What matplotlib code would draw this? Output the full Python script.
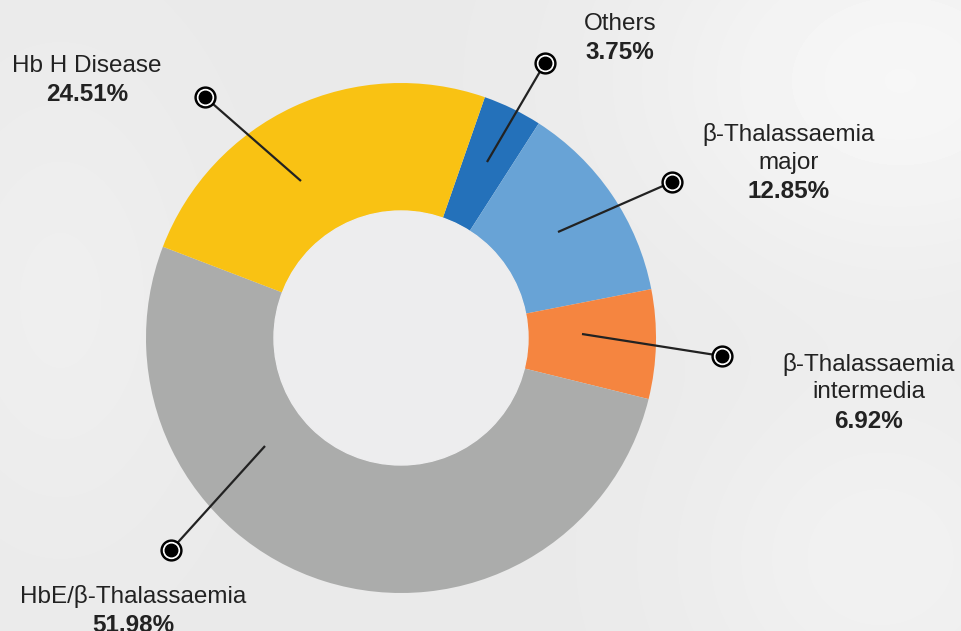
import numpy as np
import matplotlib
matplotlib.use("Agg")
from matplotlib import pyplot as plt

# Данные диаграммы
labels = ["Others", "β-Thalassaemia\nmajor", "β-Thalassaemia\nintermedia",
          "HbE/β-Thalassaemia", "Hb H Disease"]
values = [3.75, 12.85, 6.92, 51.98, 24.51]
colors = ["#2471BA", "#68A3D6", "#F58540", "#ABACAB", "#F9C213"]

W, H = 962, 631
CX, CY = 401, H - 338
R_OUT = 255
RING = 128
START = 70.8

# Выноски: точка внутри сегмента -> маркер, затем позиция подписи
anchors = [(487, 162), (558, 232), (582, 334), (265, 446), (301, 181)]
dots = [(545, 63), (672, 182), (722, 356), (171, 550), (205, 97)]
label_pos = [(620, 24), (789, 135), (869, 364), (133, 597), (87, 66)]
n_lines = [1, 2, 2, 1, 1]

plt.rcParams['font.family'] = ['Liberation Sans', 'DejaVu Sans']

fig = plt.figure(figsize=(W / 100, H / 100), dpi=100)
ax = fig.add_axes([0, 0, 1, 1])

# Фон с мягким градиентом
yy, xx = np.mgrid[0:H, 0:W]
bg = 0.915 + 0.05 * np.exp(-(((xx - 900) / 260.0) ** 2 + ((yy - 80) / 200.0) ** 2))
bg += 0.03 * np.exp(-(((xx - 880) / 200.0) ** 2 + ((yy - 560) / 180.0) ** 2))
bg += 0.02 * np.exp(-(((xx - 60) / 150.0) ** 2 + ((yy - 300) / 250.0) ** 2))
bg = np.clip(bg, 0, 0.975)
ax.imshow(bg, cmap='gray', vmin=0, vmax=1, extent=[0, W, 0, H], origin='upper',
          zorder=0, aspect='auto')

ax.pie(values, colors=colors, startangle=START, counterclock=False,
       radius=R_OUT, center=(CX, CY),
       wedgeprops=dict(width=RING, edgecolor='none'), frame=True)

ax.add_patch(plt.Circle((CX, CY), R_OUT - RING, color='#ededee', zorder=2))

for (ax0, ay0), (dx, dy) in zip(anchors, dots):
    ax.plot([ax0, dx], [H - ay0, H - dy], color='#222222', lw=1.6, zorder=3,
            solid_capstyle='butt')
    ax.plot(dx, H - dy, 'o', ms=15, color='black', zorder=4)
    ax.plot(dx, H - dy, 'o', ms=11.5, color='white', zorder=5)
    ax.plot(dx, H - dy, 'o', ms=9, color='black', zorder=6)

line_h = 28.5
for lab, val, (tx, ty), n in zip(labels, values, label_pos, n_lines):
    for i, part in enumerate(lab.split("\n")):
        ax.text(tx, H - (ty + i * line_h), part, ha='center', va='center',
                fontsize=17.5, color='#222222', zorder=7)
    ax.text(tx, H - (ty + n * line_h), f"{val:.2f}%", ha='center', va='center',
            fontsize=17.5, fontweight='bold', color='#222222', zorder=7)

ax.set_xlim(0, W)
ax.set_ylim(0, H)
ax.set_aspect('auto')
ax.axis('off')

fig.savefig("out.png", dpi=100)
